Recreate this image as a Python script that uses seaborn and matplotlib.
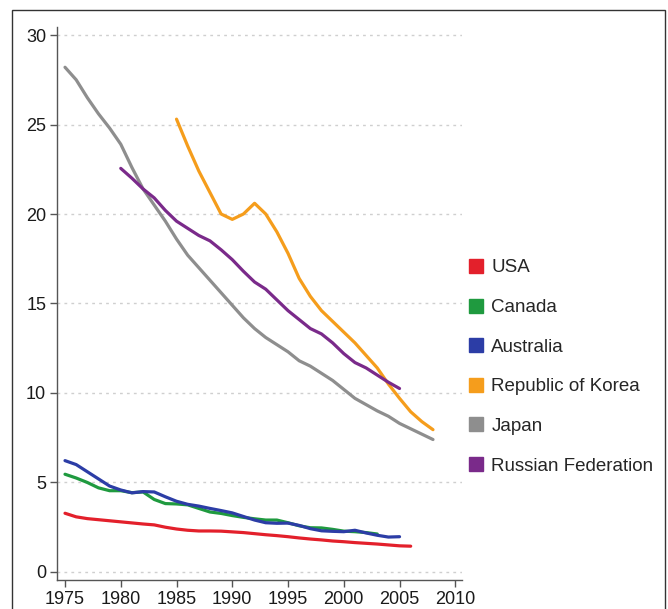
import matplotlib
matplotlib.use("Agg")
import matplotlib.pyplot as plt
from matplotlib.lines import Line2D
from matplotlib.patches import Rectangle
import pandas as pd
import seaborn as sns

# values
usa_years = list(range(1975, 2007))
usa = [3.28, 3.08, 2.98, 2.92, 2.86, 2.80, 2.74, 2.68, 2.63, 2.50, 2.40, 2.33,
       2.29, 2.29, 2.28, 2.24, 2.20, 2.14, 2.08, 2.03, 1.97, 1.90, 1.84, 1.79,
       1.73, 1.69, 1.64, 1.60, 1.56, 1.51, 1.46, 1.44]

canada_years = list(range(1975, 2004))
canada = [5.46, 5.25, 5.00, 4.70, 4.54, 4.54, 4.43, 4.47, 4.05, 3.82, 3.80,
          3.75, 3.55, 3.35, 3.27, 3.15, 3.05, 2.97, 2.90, 2.90, 2.75, 2.58,
          2.47, 2.46, 2.38, 2.28, 2.25, 2.20, 2.12]

australia_years = list(range(1975, 2006))
australia = [6.22, 6.00, 5.60, 5.20, 4.80, 4.58, 4.42, 4.49, 4.47, 4.20, 3.95,
             3.78, 3.68, 3.55, 3.43, 3.30, 3.10, 2.90, 2.75, 2.72, 2.73, 2.60,
             2.42, 2.30, 2.27, 2.25, 2.33, 2.18, 2.05, 1.95, 1.97]

korea_years = list(range(1985, 2009))
korea = [25.3, 23.8, 22.4, 21.2, 20.0, 19.7, 20.0, 20.6, 20.0, 19.0, 17.8,
         16.4, 15.4, 14.6, 14.0, 13.4, 12.8, 12.1, 11.4, 10.5, 9.7, 8.95,
         8.4, 7.95]

japan_years = list(range(1975, 2009))
japan = [28.2, 27.5, 26.5, 25.6, 24.8, 23.9, 22.6, 21.4, 20.5, 19.6, 18.6,
         17.7, 17.0, 16.3, 15.6, 14.9, 14.2, 13.6, 13.1, 12.7, 12.3, 11.8,
         11.5, 11.1, 10.7, 10.2, 9.7, 9.35, 9.0, 8.7, 8.3, 8.0, 7.7, 7.4]

russia_years = list(range(1980, 2006))
russia = [22.55, 22.0, 21.4, 20.9, 20.2, 19.6, 19.2, 18.8, 18.5, 18.0, 17.45,
          16.8, 16.2, 15.8, 15.2, 14.6, 14.1, 13.6, 13.3, 12.8, 12.2, 11.7,
          11.4, 11.0, 10.6, 10.25]

countries = ["USA", "Canada", "Australia", "Republic of Korea", "Japan",
             "Russian Federation"]
colors = ["#e3202b", "#1f9a3f", "#2c3da6", "#f59d1c", "#8e8e8e", "#7a2a8a"]

series = {
    "USA": (usa_years, usa),
    "Canada": (canada_years, canada),
    "Australia": (australia_years, australia),
    "Republic of Korea": (korea_years, korea),
    "Japan": (japan_years, japan),
    "Russian Federation": (russia_years, russia),
}

rows = []
for name, (yrs, vals) in series.items():
    for y, v in zip(yrs, vals):
        rows.append({"year": y, "value": v, "country": name})
df = pd.DataFrame(rows)

sns.set_theme(style="white")
plt.rcParams["font.family"] = ["Liberation Sans", "DejaVu Sans"]

fig = plt.figure(figsize=(6.68, 6.09), dpi=100)
ax = fig.add_axes([0.0858, 0.0476, 0.6058, 0.9081])

palette = dict(zip(countries, colors))
sns.lineplot(data=df, x="year", y="value", hue="country", hue_order=countries,
             palette=palette, linewidth=2.3, ax=ax, legend=False)

ax.set_xlim(1974.31, 2010.6)
ax.set_ylim(-0.45, 30.45)
ax.set_xticks(range(1975, 2011, 5))
ax.set_yticks(range(0, 31, 5))
ax.set_xlabel("")
ax.set_ylabel("")
ax.tick_params(axis="both", labelsize=13, length=5, width=1, color="#555555",
               labelcolor="#1a1a1a", pad=3)
ax.tick_params(axis="both", which="both", bottom=True, left=True)

for y in range(0, 31, 5):
    ax.axhline(y, color="#cfcfcf", lw=1, ls=(0, (2, 3)), zorder=0)

for side in ["top", "right"]:
    ax.spines[side].set_visible(False)
for side in ["left", "bottom"]:
    ax.spines[side].set_color("#555555")
    ax.spines[side].set_linewidth(1)

handles = [Line2D([], [], marker="s", linestyle="", markersize=10,
                  markerfacecolor=c, markeredgecolor=c) for c in colors]
fig.legend(handles, countries, loc="center left",
           bbox_to_anchor=(468 / 668, 1 - 367 / 609), frameon=False,
           fontsize=13.5, labelspacing=1.2, handlelength=0.9,
           handletextpad=0.35, borderaxespad=0, borderpad=0)

# outer frame of the picture
fig.patches.append(Rectangle((12 / 668, -0.1), (665 - 12) / 668, 0.1 + 1 - 10 / 609,
                             transform=fig.transFigure, fill=False,
                             edgecolor="#333333", lw=1))

fig.savefig("out.png", dpi=100)
